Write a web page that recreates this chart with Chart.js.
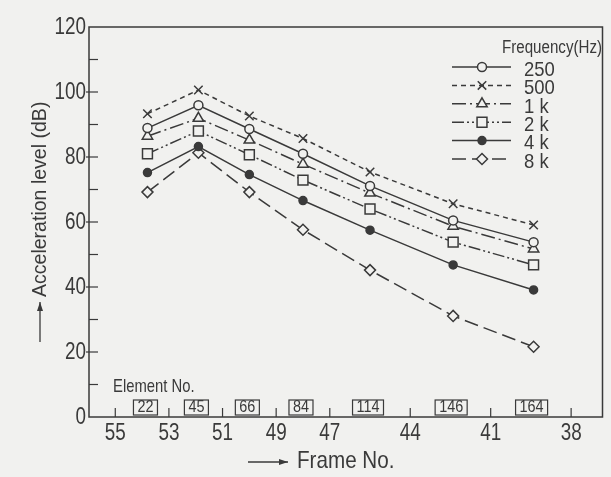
<!DOCTYPE html>
<html>
<head>
<meta charset="utf-8">
<script src="https://cdn.jsdelivr.net/npm/chart.js@4.4.1/dist/chart.umd.min.js"></script>
<style>
  html, body { margin: 0; padding: 0; background: #f1f1ef; }
  #wrap { width: 611px; height: 477px; }
</style>
</head>
<body>
<div id="wrap"><canvas id="chart"></canvas></div>
<script>
// frame numbers along the bottom axis, element numbers of the measured points
const frameTicks = [55, 53, 51, 49, 47, 44, 41, 38]
const elementNos = [22, 45, 66, 84, 114, 146, 164]
const elementFrames = [53.8, 51.9, 50.0, 48.0, 45.5, 42.4, 39.4]

// acceleration level (dB) per frequency band
const freqLabels = ["250", "500", "1 k", "2 k", "4 k", "8 k"]
const level250 = [88.9, 95.9, 88.6, 81.0, 71.1, 60.5, 53.8]
const level500 = [93.3, 100.6, 92.6, 85.7, 75.4, 65.6, 59.1]
const level1k = [86.4, 91.9, 85.2, 77.8, 68.9, 58.7, 51.7]
const level2k = [81.0, 88.0, 80.7, 72.9, 64.0, 53.8, 46.8]
const level4k = [75.2, 83.2, 74.6, 66.6, 57.5, 46.8, 39.1]
const level8k = [69.2, 81.3, 69.2, 57.6, 45.2, 31.1, 21.6]

const INK = "#3a3a3a"
const PAPER = "#f1f1ef"
const FONT = "'Liberation Sans', Arial, sans-serif"

const series = [
  { values: level250, style: "circle", radius: 4.5, dash: [], fill: PAPER },
  { values: level500, style: "crossRot", radius: 6, dash: [5, 4], fill: PAPER },
  { values: level1k, style: "triangle", radius: 6, dash: [14, 4, 2, 4], fill: PAPER },
  { values: level2k, style: "rect", radius: 7, dash: [12, 3, 2, 3, 2, 3], fill: PAPER },
  { values: level4k, style: "circle", radius: 4, dash: [], fill: INK },
  { values: level8k, style: "rectRot", radius: 5.5, dash: [14, 6], fill: PAPER }
]

const datasets = series.map((s, i) => ({
  label: freqLabels[i],
  data: s.values.map((v, j) => ({ x: elementFrames[j], y: v })),
  borderColor: INK,
  borderWidth: 1.5,
  borderDash: s.dash,
  pointStyle: s.style,
  pointRadius: s.radius,
  pointBorderWidth: 1.5,
  pointBorderColor: INK,
  pointBackgroundColor: s.fill,
  tension: 0
}))

// lettering is narrow, so squeeze the glyphs horizontally
function text(ctx, str, x, y, size, sx, align) {
  ctx.save()
  ctx.translate(x, y)
  ctx.scale(sx, 1)
  ctx.font = size + "px " + FONT
  ctx.textAlign = align || "left"
  ctx.textBaseline = "middle"
  ctx.fillText(str, 0, 0)
  ctx.restore()
}

function arrow(ctx, x1, y1, x2, y2) {
  const a = Math.atan2(y2 - y1, x2 - x1)
  ctx.beginPath()
  ctx.moveTo(x1, y1)
  ctx.lineTo(x2, y2)
  ctx.stroke()
  ctx.beginPath()
  ctx.moveTo(x2, y2)
  ctx.lineTo(x2 - 9 * Math.cos(a) + 3 * Math.sin(a), y2 - 9 * Math.sin(a) - 3 * Math.cos(a))
  ctx.lineTo(x2 - 9 * Math.cos(a) - 3 * Math.sin(a), y2 - 9 * Math.sin(a) + 3 * Math.cos(a))
  ctx.closePath()
  ctx.fill()
}

const extras = {
  id: "extras",
  beforeDraw(chart) {
    const ctx = chart.ctx
    ctx.save()
    ctx.fillStyle = PAPER
    ctx.fillRect(0, 0, chart.width, chart.height)
    ctx.restore()
  },
  afterDraw(chart) {
    const { ctx, chartArea: a, scales } = chart
    const xs = scales.x, ys = scales.y
    ctx.save()
    ctx.strokeStyle = INK
    ctx.fillStyle = INK
    ctx.lineWidth = 1.5
    ctx.setLineDash([])

    // frame
    ctx.strokeRect(a.left, a.top, a.right - a.left, a.bottom - a.top)

    // inward ticks and tick labels
    ctx.lineWidth = 1.2
    for (let v = 10; v < 120; v += 10) {
      const y = ys.getPixelForValue(v)
      ctx.beginPath()
      ctx.moveTo(v % 20 === 0 ? a.left - 3 : a.left, y)
      ctx.lineTo(a.left + 9, y)
      ctx.stroke()
    }
    ys.ticks.forEach(t => {
      text(ctx, String(t.value), a.left - 3, ys.getPixelForValue(t.value) + 1, 23, 0.82, "right")
    })
    xs.ticks.forEach(t => {
      const x = xs.getPixelForValue(t.value)
      ctx.beginPath()
      ctx.moveTo(x, a.bottom)
      ctx.lineTo(x, a.bottom - 9)
      ctx.stroke()
      text(ctx, String(t.value), x, a.bottom + 17, 23, 0.82, "center")
    })

    // element numbers
    text(ctx, "Element No.", 113, 387, 19, 0.78)
    ctx.lineWidth = 1.2
    elementNos.forEach((n, i) => {
      const x = xs.getPixelForValue(elementFrames[i]) - 2
      ctx.font = "16px " + FONT
      const w = ctx.measureText(String(n)).width * 0.9 + 8
      ctx.strokeRect(x - w / 2, a.bottom - 17, w, 15)
      text(ctx, String(n), x, a.bottom - 9, 16, 0.9, "center")
    })

    // axis titles
    ctx.lineWidth = 1.3
    arrow(ctx, 248, 462, 288, 462)
    text(ctx, "Frame No.", 297, 461, 24, 0.86)

    arrow(ctx, 40, 342, 40, 302)
    ctx.save()
    ctx.translate(40, 297)
    ctx.rotate(-Math.PI / 2)
    text(ctx, "Acceleration level (dB)", 0, 0, 21, 0.93)
    ctx.restore()

    // legend
    text(ctx, "Frequency(Hz)", 502, 48, 18, 0.84)
    series.forEach((s, i) => {
      const y = 67 + i * 18.4
      ctx.lineWidth = 1.5
      ctx.setLineDash(s.dash)
      ctx.beginPath()
      ctx.moveTo(452, y)
      ctx.lineTo(511, y)
      ctx.stroke()
      ctx.setLineDash([])
      ctx.fillStyle = s.fill
      Chart.helpers.drawPoint(ctx, { pointStyle: s.style, radius: s.radius, borderWidth: 1.5, rotation: 0 }, 482, y)
      ctx.fillStyle = INK
      text(ctx, freqLabels[i], 524, y + 3, 21, 0.88)
    })
    ctx.restore()
  }
}

Chart.defaults.font.family = FONT
Chart.defaults.color = INK

new Chart(document.getElementById("chart"), {
  type: "line",
  data: { datasets },
  options: {
    responsive: true,
    maintainAspectRatio: false,
    animation: false,
    layout: { padding: { top: 27, right: 3, left: 0, bottom: 0 } },
    plugins: {
      legend: { display: false },
      tooltip: { enabled: false }
    },
    scales: {
      x: {
        type: "linear",
        reverse: true,
        min: 36.83,
        max: 55.98,
        afterBuildTicks: scale => {
          scale.ticks = frameTicks.map(v => ({ value: v }))
        },
        afterFit: scale => { scale.height = 60 },
        grid: { display: false, drawTicks: false },
        border: { display: false },
        ticks: { display: false }
      },
      y: {
        min: 0,
        max: 120,
        afterFit: scale => { scale.width = 89 },
        grid: { display: false, drawTicks: false },
        border: { display: false },
        ticks: { display: false, stepSize: 20 }
      }
    }
  },
  plugins: [extras]
})
</script>
</body>
</html>
